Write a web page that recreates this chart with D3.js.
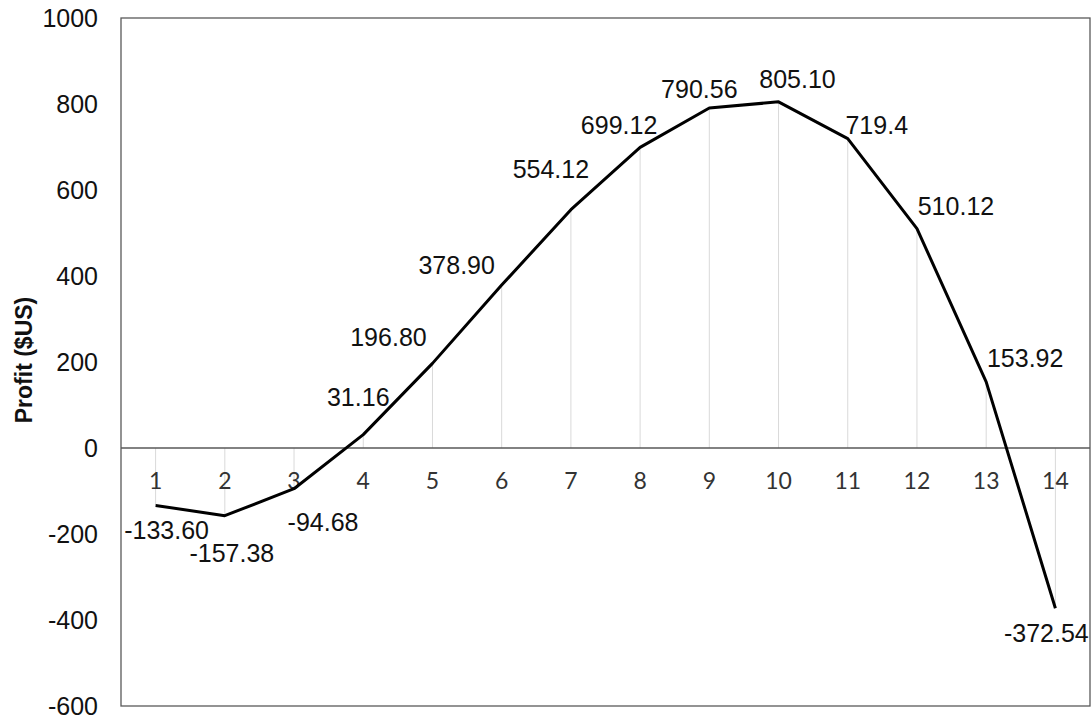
<!DOCTYPE html>
<html><head><meta charset="utf-8">
<script src="https://cdn.jsdelivr.net/npm/d3@7"></script>
<style>body{margin:0;background:#fff}</style>
</head><body>
<svg id="chart" width="1091" height="719"></svg>
<script>
const categories = ["1","2","3","4","5","6","7","8","9","10","11","12","13","14"];
const profit = [-133.60,-157.38,-94.68,31.16,196.80,378.90,554.12,699.12,790.56,805.10,719.4,510.12,153.92,-372.54];
const valueLabels = ["-133.60","-157.38","-94.68","31.16","196.80","378.90","554.12","699.12","790.56","805.10","719.4","510.12","153.92","-372.54"];
const yTicks = [-600,-400,-200,0,200,400,600,800,1000];
// label placement offsets (layout only)
const labelOffsets = [[11,25],[7,37],[29,33],[-5,-38],[-44,-26],[-45,-20],[-20,-41],[-21,-22],[-10,-19],[19,-23],[29,-14],[39,-23],[39,-24],[-9,25]];

const svg = d3.select("#chart");
const L = 121, R = 1090, T = 18, B = 706;
const x = d3.scaleBand().domain(categories).range([L, R]);
const y = d3.scaleLinear().domain([-600, 1000]).range([B, T]);
const cx = c => x(c) + x.bandwidth()/2;
const FONT = "Liberation Sans, Arial, sans-serif";

// drop lines
svg.append("g").selectAll("line").data(categories).join("line")
  .attr("x1", d => cx(d)).attr("x2", d => cx(d))
  .attr("y1", (d,i) => y(profit[i])).attr("y2", y(0))
  .attr("stroke", "#d9d9d9").attr("stroke-width", 1);

// frame
svg.append("rect").attr("x", L).attr("y", T).attr("width", R-L).attr("height", B-T)
  .attr("fill", "none").attr("stroke", "#595959").attr("stroke-width", 1.3);

// zero axis
svg.append("line").attr("x1", L).attr("x2", R).attr("y1", y(0)).attr("y2", y(0))
  .attr("stroke", "#595959").attr("stroke-width", 1.3);

// y axis labels
const yAxis = d3.axisLeft(y).tickValues(yTicks).tickSize(0).tickPadding(23).tickFormat(d => String(d));
const yg = svg.append("g").attr("transform", `translate(${L},0)`).call(yAxis);
yg.select(".domain").remove();
yg.selectAll("text").attr("font-family", FONT)
  .attr("font-size", 25).attr("fill", "#111");

// category labels
const xAxis = d3.axisBottom(x).tickSize(0).tickPadding(0);
const xg = svg.append("g").attr("transform", `translate(0,${y(0)})`).call(xAxis);
xg.select(".domain").remove();
xg.selectAll("text").attr("font-family", "Lato, Carlito, sans-serif")
  .attr("font-size", 23).attr("fill", "#333").attr("dy", null).attr("y", 41);

// line
const line = d3.line().x((d,i) => cx(categories[i])).y(d => y(d));
svg.append("path").datum(profit).attr("d", line)
  .attr("fill", "none").attr("stroke", "#000").attr("stroke-width", 3).attr("stroke-linejoin", "round");

// data labels
svg.append("g").selectAll("text").data(profit).join("text")
  .attr("x", (d,i) => cx(categories[i]) + labelOffsets[i][0])
  .attr("y", (d,i) => y(d) + labelOffsets[i][1])
  .attr("dy", "0.36em").attr("text-anchor", "middle")
  .attr("font-family", FONT).attr("font-size", 25).attr("fill", "#111")
  .text((d,i) => valueLabels[i]);

// axis title
svg.append("text").attr("transform", "translate(32,360) rotate(-90)")
  .attr("text-anchor", "middle").attr("font-family", FONT)
  .attr("font-weight", "bold").attr("font-size", 23).attr("fill", "#111")
  .text("Profit ($US)");
</script>
</body></html>
